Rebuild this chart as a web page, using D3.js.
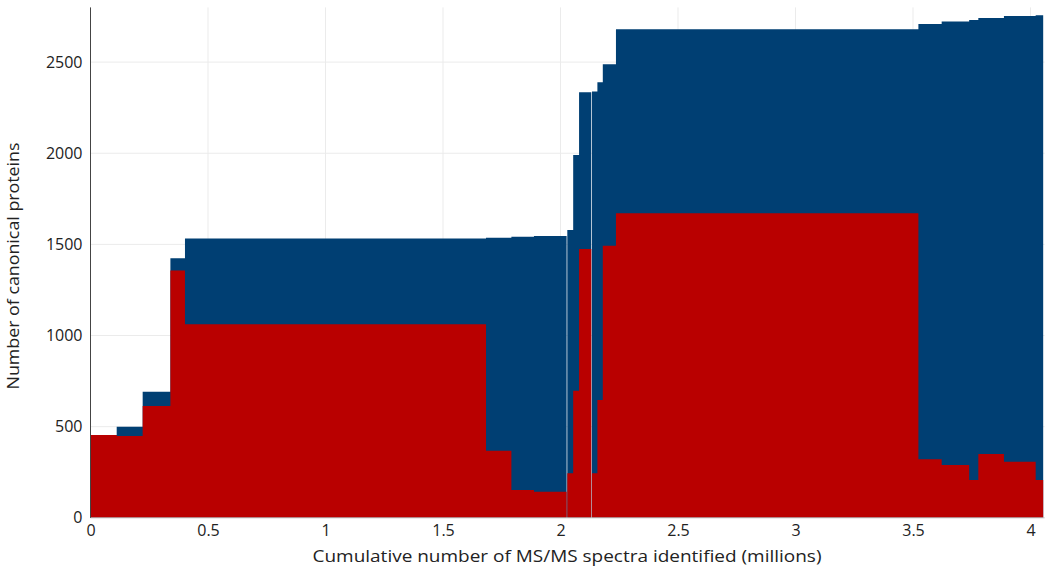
<!DOCTYPE html>
<html>
<head>
<meta charset="utf-8">
<script src="https://cdn.jsdelivr.net/npm/d3@7"></script>
<style>
  html, body { margin: 0; padding: 0; background: #fff; }
  svg text { font-family: "Open Sans", "Noto Sans", sans-serif; fill: #222; }
</style>
</head>
<body>
<svg id="chart" width="1050" height="573"></svg>
<script>
// Segment boundaries (millions of MS/MS spectra)
const segStart = [0, 0.1115, 0.222, 0.340, 0.402, 1.683, 1.791, 1.887, 2.029, 2.054, 2.079, 2.134, 2.157, 2.180, 2.236, 3.523, 3.622, 3.739, 3.778, 3.887, 4.022];
const segEnd   = [0.1115, 0.222, 0.340, 0.402, 1.683, 1.791, 1.887, 2.026, 2.054, 2.079, 2.131, 2.157, 2.180, 2.236, 3.523, 3.622, 3.739, 3.778, 3.887, 4.022, 4.054];
// Cumulative canonical proteins (blue)
const cumulativeProteins = [454, 500, 692, 1424, 1532, 1537, 1542, 1546, 1579, 1990, 2334, 2338, 2389, 2488, 2680, 2709, 2722, 2731, 2742, 2753, 2757];
// Proteins per step (red)
const stepProteins = [454, 449, 613, 1356, 1062, 368, 153, 143, 244, 697, 1475, 244, 646, 1493, 1671, 321, 290, 207, 350, 308, 207];
const xTicks = [0, 0.5, 1, 1.5, 2, 2.5, 3, 3.5, 4];
const yTicks = [0, 500, 1000, 1500, 2000, 2500];

const svg = d3.select("#chart");
const mLeft = 90.5, mRight = 1044.6, mTop = 7.4, mBottom = 517.8;
const x = d3.scaleLinear().domain([0, 4.06]).range([mLeft, mRight]);
const y = d3.scaleLinear().domain([0, 2800]).range([mBottom, mTop]);

// gridlines
svg.append("g").selectAll("line").data(xTicks.slice(1)).join("line")
  .attr("x1", d => x(d)).attr("x2", d => x(d)).attr("y1", mTop).attr("y2", mBottom)
  .attr("stroke", "#ebebeb").attr("stroke-width", 1);
svg.append("g").selectAll("line").data(yTicks.slice(1)).join("line")
  .attr("x1", mLeft).attr("x2", mRight).attr("y1", d => y(d)).attr("y2", d => y(d))
  .attr("stroke", "#ebebeb").attr("stroke-width", 1);

const segs = segStart.map((s, i) => ({ s, e: segEnd[i], b: cumulativeProteins[i], r: stepProteins[i] }));

// group contiguous segments so each run is one step-area path (no seams)
const runs = [];
segs.forEach((d, i) => {
  if (i === 0 || Math.abs(d.s - segs[i - 1].e) > 1e-9) runs.push([]);
  runs[runs.length - 1].push(d);
});
function runPoints(run, key) {
  const pts = run.map(d => ({ x: d.s, v: d[key] }));
  pts.push({ x: run[run.length - 1].e, v: run[run.length - 1][key] });
  return pts;
}
const area = d3.area().curve(d3.curveStepAfter)
  .x(p => x(p.x)).y0(y(0)).y1(p => y(p.v));

svg.append("g").selectAll("path").data(runs).join("path")
  .attr("d", r => area(runPoints(r, "b"))).attr("fill", "#003f73");
svg.append("g").selectAll("path").data(runs).join("path")
  .attr("d", r => area(runPoints(r, "r"))).attr("fill", "#b90000");

// axes
const xAxis = d3.axisBottom(x).tickValues(xTicks).tickSize(0).tickPadding(7)
  .tickFormat(d3.format(""));
const gx = svg.append("g").attr("transform", `translate(0,${mBottom})`).call(xAxis);
gx.select(".domain").attr("stroke", "#bbbbbb").attr("d", `M${mLeft},0H${mRight}`);
gx.selectAll("text").attr("font-size", 16).attr("font-family", "Open Sans").attr("fill", "#222");

const yAxis = d3.axisLeft(y).tickValues(yTicks).tickSize(0).tickPadding(8)
  .tickFormat(d3.format("d"));
const gy = svg.append("g").attr("transform", `translate(${mLeft},0)`).call(yAxis);
gy.select(".domain").attr("stroke", "#444").attr("d", `M0,${mTop}V${mBottom}`);
gy.selectAll("text").attr("font-size", 16).attr("font-family", "Open Sans").attr("fill", "#222");

svg.append("text").attr("x", 567).attr("y", 562).attr("text-anchor", "middle")
  .attr("font-size", 16).attr("textLength", 509).attr("lengthAdjust", "spacingAndGlyphs")
  .text("Cumulative number of MS/MS spectra identified (millions)");
svg.append("text").attr("transform", "translate(19,266) rotate(-90)").attr("text-anchor", "middle")
  .attr("font-size", 16).attr("textLength", 247).attr("lengthAdjust", "spacingAndGlyphs")
  .text("Number of canonical proteins");
</script>
</body>
</html>
